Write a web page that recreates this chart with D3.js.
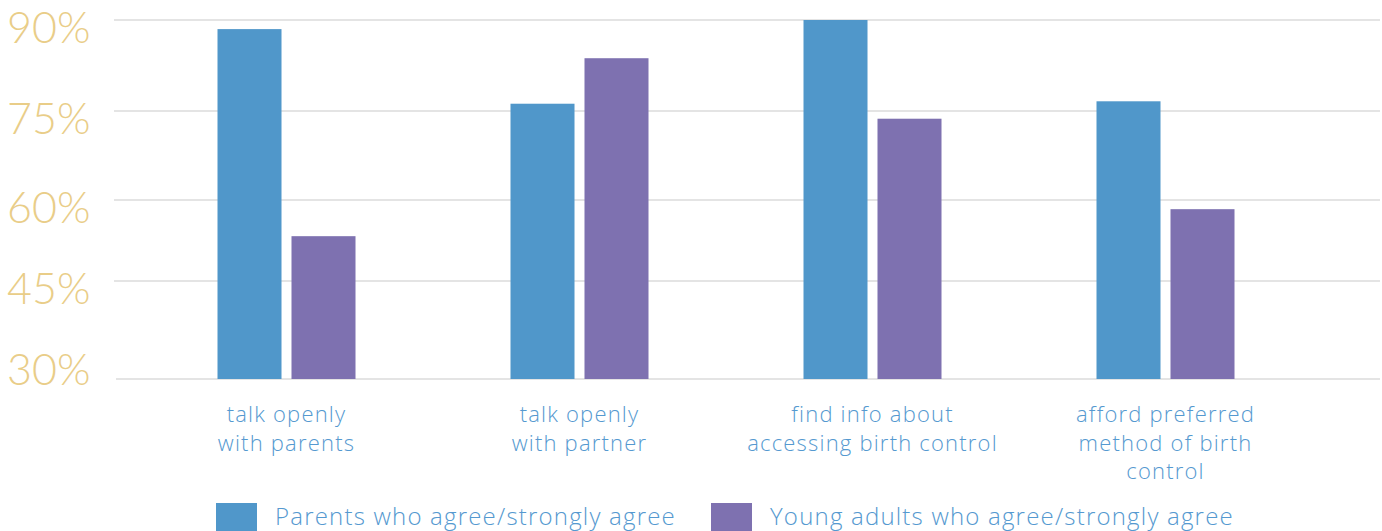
<!DOCTYPE html>
<html>
<head>
<meta charset="utf-8">
<script src="https://cdn.jsdelivr.net/npm/d3@7"></script>
<style>
  html, body { margin: 0; padding: 0; background: #fff; }
  svg { display: block; font-family: Lato, "Open Sans", sans-serif; }
  .txt { font-family: "Open Sans", Lato, sans-serif; letter-spacing: 1.2px; }
</style>
</head>
<body>
<svg id="chart" width="1382" height="531"></svg>
<script>
// Survey categories (multi-line labels) and the two respondent groups
const categories = [
  ["talk openly", "with parents"],
  ["talk openly", "with partner"],
  ["find info about", "accessing birth control"],
  ["afford preferred", "method of birth", "control"]
];
const seriesNames = ["Parents who agree/strongly agree", "Young adults who agree/strongly agree"];
const parentsValues = [88.5, 76.2, 90.0, 76.6];
const youngAdultValues = [53.3, 83.7, 73.7, 58.3];
const yTicks = [30, 45, 60, 75, 90];
const colors = ["#5097ca", "#7e71b0"];

const svg = d3.select("#chart");

// value axis: gridlines are laid out per tick band
const y = d3.scaleLinear().domain(yTicks).range([379, 281, 200, 111, 20]);

// category bands and the pair of bars inside each band
const x0 = d3.scaleBand().domain(d3.range(categories.length)).range([140, 1312]).paddingInner(0).paddingOuter(0);
const x1 = d3.scaleBand().domain(d3.range(seriesNames.length)).range([-69, 69]).paddingInner(0.135).paddingOuter(0);

// horizontal gridlines
svg.append("g").selectAll("line").data(yTicks).join("line")
  .attr("x1", d => d === yTicks[0] ? 116 : 114)
  .attr("x2", 1380)
  .attr("y1", d => y(d)).attr("y2", d => y(d))
  .attr("stroke", "#e4e4e4").attr("stroke-width", 2);

// tick labels; the lowest one is lifted so it sits above the baseline
svg.append("g").selectAll("text").data(yTicks).join("text")
  .attr("x", 7)
  .attr("y", d => Math.min(y(d) + 8, y(yTicks[0]) - 9))
  .attr("dy", "0.35em")
  .attr("fill", "#e9cd88")
  .attr("font-size", 43)
  .attr("font-weight", 300)
  .text(d => d + "%");

// bars
const rows = categories.map((c, i) => [parentsValues[i], youngAdultValues[i]]);
const groups = svg.append("g").selectAll("g").data(rows).join("g")
  .attr("transform", (d, i) => `translate(${x0(i) + x0.bandwidth() / 2},0)`);
groups.selectAll("rect").data(d => d).join("rect")
  .attr("x", (d, j) => x1(j))
  .attr("width", x1.bandwidth())
  .attr("y", d => y(d))
  .attr("height", d => y(yTicks[0]) - y(d))
  .attr("fill", (d, j) => colors[j]);

// category labels
const labels = svg.append("g").selectAll("text").data(categories).join("text")
  .attr("class", "txt")
  .attr("text-anchor", "middle")
  .attr("fill", "#5599d0")
  .attr("font-size", 22)
  .attr("font-weight", 300)
  .attr("transform", (d, i) => `translate(${x0(i) + x0.bandwidth() / 2},422)`);
labels.selectAll("tspan").data(d => d).join("tspan")
  .attr("x", 0)
  .attr("y", (d, k) => k * 28.5)
  .text(d => d);

// legend
const legendX = [216, 711];
const legend = svg.append("g").selectAll("g").data(seriesNames).join("g")
  .attr("transform", (d, i) => `translate(${legendX[i]},503)`);
legend.append("rect").attr("width", 41).attr("height", 30).attr("fill", (d, i) => colors[i]);
legend.append("text")
  .attr("class", "txt")
  .attr("x", 59).attr("y", 14).attr("dy", "0.35em")
  .attr("fill", "#5599d0")
  .attr("font-size", 24)
  .attr("font-weight", 300)
  .text(d => d);
</script>
</body>
</html>
